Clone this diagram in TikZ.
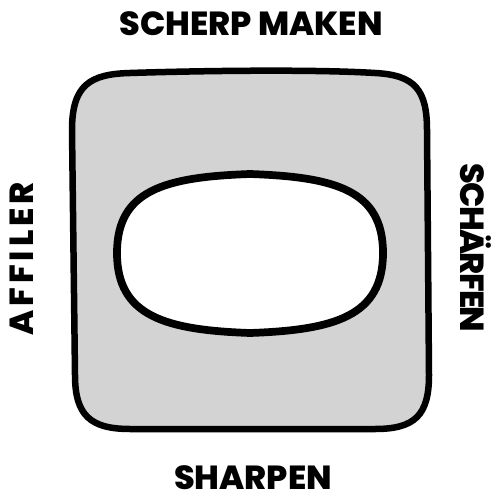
\documentclass[tikz,border=0pt]{standalone}
\usepackage{fontspec}
\IfFontExistsTF{Poppins ExtraBold}
  {\setmainfont{Poppins}[BoldFont={Poppins ExtraBold}]}
  {\setmainfont{Poppins}}
\usepackage{tikz}
\usetikzlibrary{calc}
\definecolor{framegray}{RGB}{211,211,211}

\tikzset{
  wordlabel/.style={font=\fontsize{19}{19}\selectfont\bfseries, inner sep=0pt},
  frameline/.style={line width=3.7pt, line join=round, fill=framegray},
  holeline/.style={line width=4.4pt, line join=round, fill=white}
}

\begin{document}
\begin{tikzpicture}[x=0.02cm, y=-0.02cm]
    \useasboundingbox (0,0) rectangle (500,500);
    % outer frame
    \draw[frameline] (72,130) .. controls (72,85) and (90,74) .. (130,73)
        .. controls (190,71) and (310,69) .. (375,73)
        .. controls (415,75) and (427,90) .. (427,130)
        -- (429,375)
        .. controls (429,415) and (415,429) .. (375,429)
        -- (130,429)
        .. controls (90,429) and (75,415) .. (75,375) -- cycle;
    % inner hole
    \draw[holeline] (117,253) .. controls (117,190) and (165,177) .. (250,174)
        .. controls (335,177) and (383,190) .. (383,253)
        .. controls (383,316) and (335,330) .. (250,333)
        .. controls (165,330) and (117,316) .. cycle;
    % words
    \node[wordlabel] (nl) at (251,24) {SCHERP MAKEN};
    \node[wordlabel] (en) at (253,478) {SHARPEN};
    \node[wordlabel, rotate=90] (fr) at (22,259) {\addfontfeatures{LetterSpace=12}AFFILER};
    \node[wordlabel, rotate=-90] (de) at (476,248) {\addfontfeatures{LetterSpace=-5}SCHÄRFEN};
\end{tikzpicture}
\end{document}
